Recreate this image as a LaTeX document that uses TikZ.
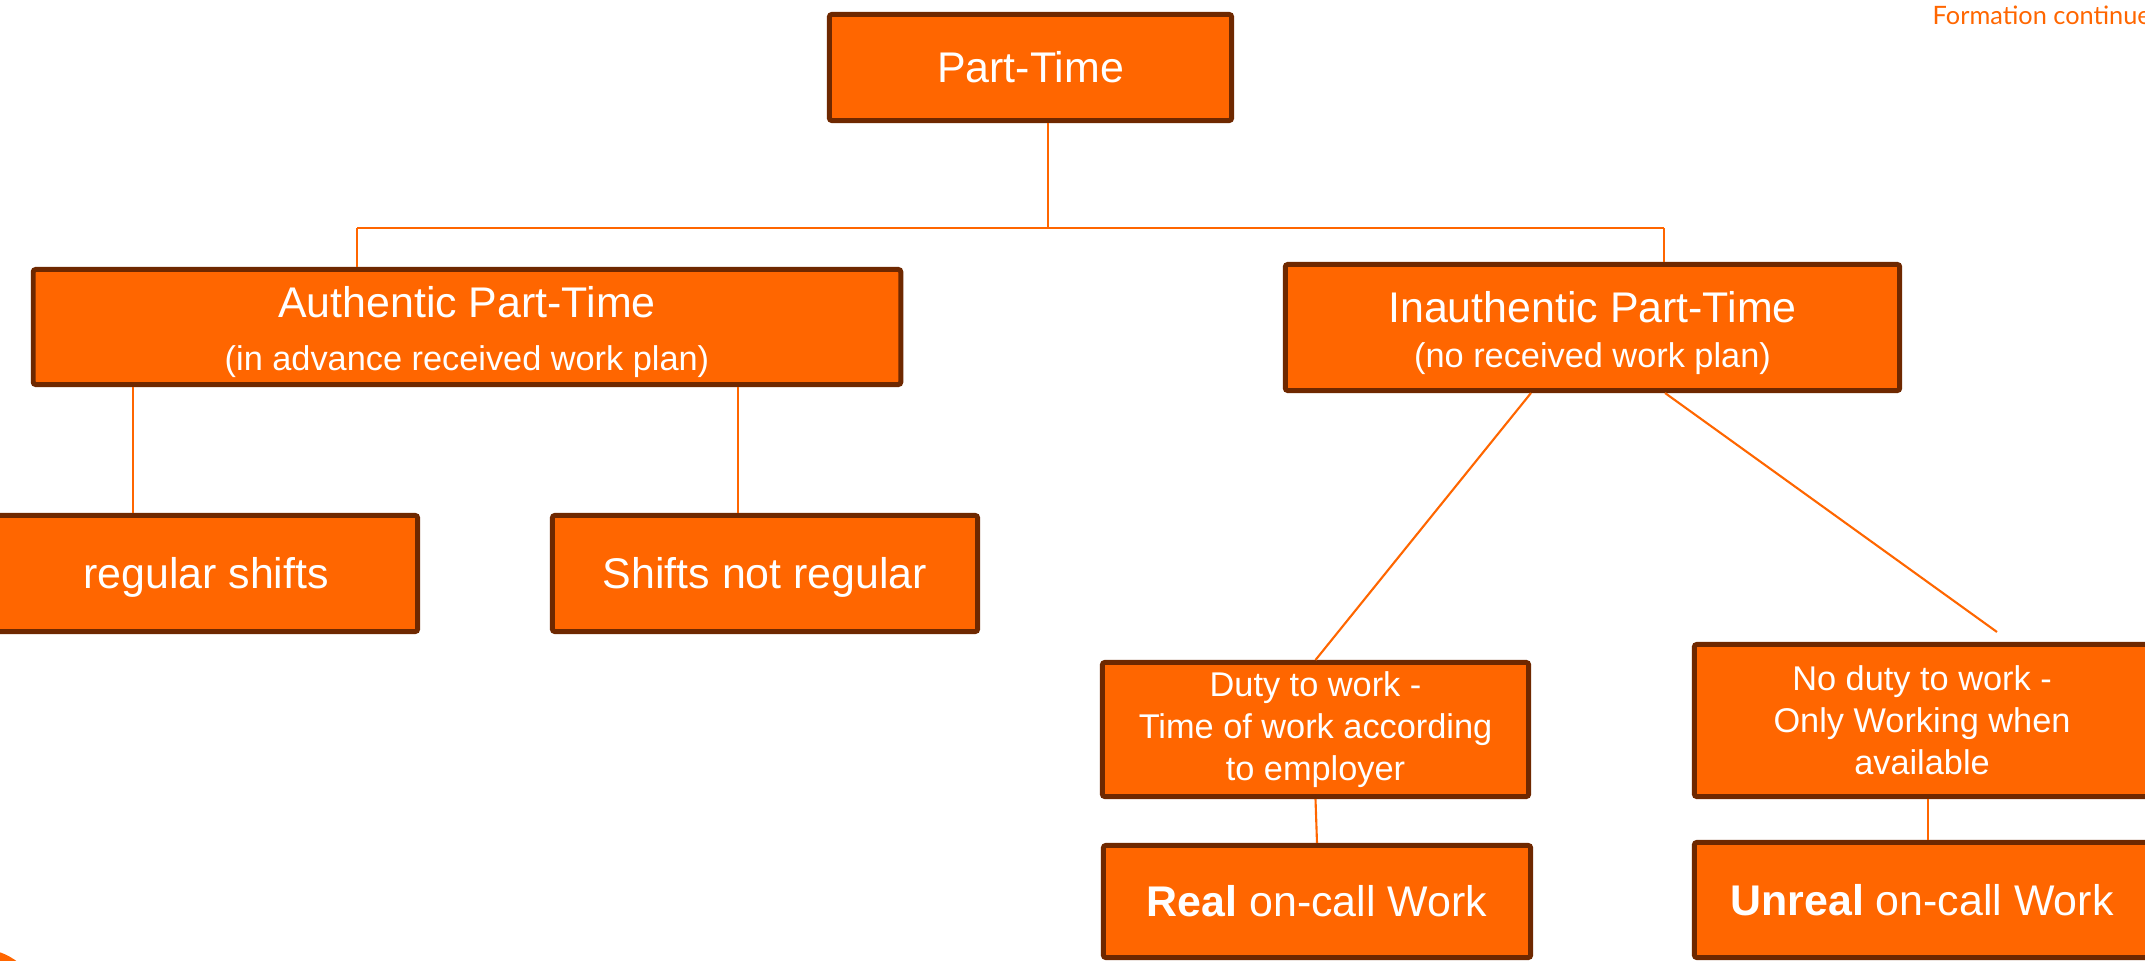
\documentclass[tikz,border=0pt]{standalone}
\usepackage{fontspec}
\setmainfont{Liberation Sans}
\newfontfamily\latofont{Lato}
\definecolor{orng}{RGB}{255,102,0}
\definecolor{brd}{RGB}{110,40,0}
\begin{document}
\begin{tikzpicture}[x=0.01cm,y=-0.01cm,
  box/.style={draw=brd, fill=orng, line width=1.42pt, rounded corners=0.7pt, text=white, align=center, inner sep=0pt, font=\fontsize{9.76}{11.9}\selectfont},
  big/.style={font=\fontsize{12.2}{14}\selectfont, text height=8.7pt, text depth=0pt},
  link/.style={draw=orng, line width=0.6pt}]
\useasboundingbox (0,0) rectangle (2145,961);

% corner blob
\fill[orng] (-20,1010) circle [radius=0.61cm];

% header text
\node[anchor=west, text=orng, font=\latofont\fontsize{7.2}{9}\selectfont, inner sep=0pt] (fc) at (1932,15) {Formation continue};

% boxes
\node[box, big, minimum width=4.02cm, minimum height=1.06cm] (pt) at (1030.5,67.5) {Part-Time};
\node[box, minimum width=8.67cm, minimum height=1.15cm] (auth) at (467,327)
  {{\fontsize{12.2}{14}\selectfont\rule{0pt}{11.7pt}Authentic Part-Time}\\[3pt](in advance received work plan)};
\node[box, minimum width=6.14cm, minimum height=1.26cm] (inauth) at (1592.5,327.5)
  {{\fontsize{12.2}{14}\selectfont\rule{0pt}{12pt}Inauthentic Part-Time}\\[0.8pt](no received work plan)};
\node[box, big, minimum width=4.23cm, minimum height=1.16cm] (reg) at (206,573.5) {regular shifts};
\node[box, big, minimum width=4.25cm, minimum height=1.16cm] (notreg) at (765,573.5) {Shifts not regular};
\node[box, minimum width=4.26cm, minimum height=1.34cm] (duty) at (1315.5,729.5)
  {Duty to work -\\Time of work according\\to employer};
\node[box, big, minimum width=4.27cm, minimum height=1.12cm] (real) at (1317,901.5) {\textbf{Real} on-call Work};
\node[box, minimum width=4.55cm, minimum height=1.52cm] (nod) at (1922,720.5)
  {No duty to work -\\Only Working when\\available};
\node[box, big, minimum width=4.55cm, minimum height=1.15cm] (unreal) at (1922,900) {\textbf{Unreal} on-call Work};

% connector coordinates
\coordinate (hm) at (1048,228);
\coordinate (hl) at (357,228);
\coordinate (hr) at (1664,228);
\coordinate (ra) at (133,0);
\coordinate (rb) at (738,0);
\coordinate (nodend) at (1997,632);

% connectors
\draw[link] (pt.south -| hm) -- (hm);
\draw[link] (hl) -- (hr);
\draw[link] (hl) -- (auth.north -| hl);
\draw[link] (hr) -- (inauth.north -| hr);
\draw[link] (auth.south -| ra) -- (reg.north -| ra);
\draw[link] (auth.south -| rb) -- (notreg.north -| rb);
\draw[link] ([xshift=-0.615cm]inauth.south) -- (duty.north);
\draw[link] ([xshift=0.725cm]inauth.south) -- (nodend);
\draw[link] (duty.south) -- (real.north);
\draw[link] ([xshift=0.06cm]nod.south) -- ([xshift=0.06cm]unreal.north);
\end{tikzpicture}
\end{document}
